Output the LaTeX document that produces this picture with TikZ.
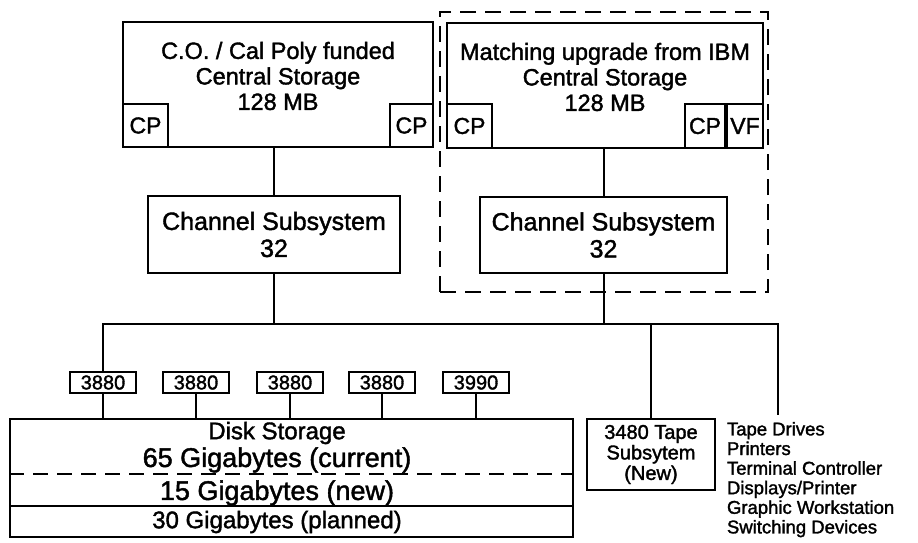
\documentclass[tikz,border=0pt]{standalone}
\usepackage{fontspec}
\setmainfont{Liberation Sans}[FakeBold=1.6]
\usetikzlibrary{calc}

\begin{document}
\begin{tikzpicture}[x=1pt,y=-1pt,line width=2pt,
  box/.style n args={2}{draw,minimum width=#1,minimum height=#2,inner sep=0pt},
  storetext/.style={align=center,inner sep=0pt,font=\fontsize{23.5}{25.5}\selectfont},
  cptext/.style={font=\fontsize{23}{23}\selectfont},
  chantext/.style={align=center,font=\fontsize{25}{27}\selectfont},
  ctltext/.style={font=\fontsize{20}{20}\selectfont},
  disktext/.style={inner sep=0pt,font=\fontsize{#1}{#1}\selectfont},
  disktext/.default=24,
  tapetext/.style={align=center,font=\fontsize{20}{20.5}\selectfont},
  devtext/.style={align=left,inner sep=0pt,font=\fontsize{18.5}{19.6}\selectfont},
  groupline/.style={dash pattern=on 16pt off 9pt}]
\useasboundingbox (0,0) rectangle (918,543);

% central storage, C.O. side
\node[box={310}{125}] (costore) at (278,84.5) {};
\node[storetext] (cotext) at (278,76) {C.O. / Cal Poly funded\\Central Storage\\128 MB};
\node[box={45}{43},cptext,anchor=south west] (cocpa) at (costore.south west) {CP};
\node[box={43}{43},cptext,anchor=south east] (cocpb) at (costore.south east) {CP};

% matching upgrade from IBM
\node[box={328}{280},groupline] (upgrade) at (604,152) {};
\node[box={316}{125}] (ibmstore) at (605,85.5) {};
\node[storetext] (ibmtext) at (605,77) {Matching upgrade from IBM\\Central Storage\\128 MB};
\node[box={45}{44},cptext,anchor=south west] (ibmcpa) at (ibmstore.south west) {CP};
\node[box={36}{44},cptext,anchor=south east] (ibmvf) at (ibmstore.south east) {VF};
\node[box={40}{44},cptext,anchor=south east] (ibmcpb) at (ibmvf.south west) {CP};

% channel subsystems
\node[box={252}{77},chantext] (cochan) at (274,234.5) {Channel Subsystem\\32};
\node[box={247}{76},chantext] (ibmchan) at (603.5,235) {Channel Subsystem\\32};

    \coordinate (busleft) at (103,324);
    \coordinate (busright) at (778,324);
    \coordinate (devtop) at (778,415);
    \coordinate (newsplit) at (0,474);
    \coordinate (plansplit) at (0,506);

% controllers and disk storage
\foreach \x/\lbl [count=\i] in {103/3880,196/3880,290/3880,382/3880,476/3990}
  \node[box={66}{21},ctltext] (ctl\i) at (\x,382.5) {\lbl};

\node[box={563}{118}] (disk) at (291.5,478) {};
\node[disktext] (disktitle) at (277,433) {Disk Storage};
\node[disktext=27] (diskcur) at (277,460) {65 Gigabytes (current)};
\node[disktext=27] (disknew) at (277,493) {15 Gigabytes (new)};
\node[disktext] (diskplan) at (277,522) {30 Gigabytes (planned)};
\draw[dash pattern=on 15pt off 9pt] (disk.west |- newsplit) -- (disk.east |- newsplit);
\draw (disk.west |- plansplit) -- (disk.east |- plansplit);

% tape and other devices
\node[box={128}{71},tapetext] (tape) at (651,454.5) {3480 Tape\\Subsytem\\(New)};
\node[devtext,anchor=north west] (devices) at (726,421) {Tape Drives\\Printers\\Terminal Controller\\Displays/Printer\\Graphic Workstation\\Switching Devices};

% connectors
\draw (cochan.north) -- (cochan.north |- costore.south);
\draw (ibmchan.north) -- (ibmchan.north |- ibmstore.south);
\draw (cochan.south) -- (cochan.south |- busleft);
\draw (ibmchan.south) -- (ibmchan.south |- busleft);
\draw (ctl1.north) |- (busright) -- (devtop);
\draw (tape.north) -- (tape.north |- busright);
\foreach \i in {1,...,5}
  \draw (ctl\i.south) -- (ctl\i.south |- disk.north);

\end{tikzpicture}
\end{document}
